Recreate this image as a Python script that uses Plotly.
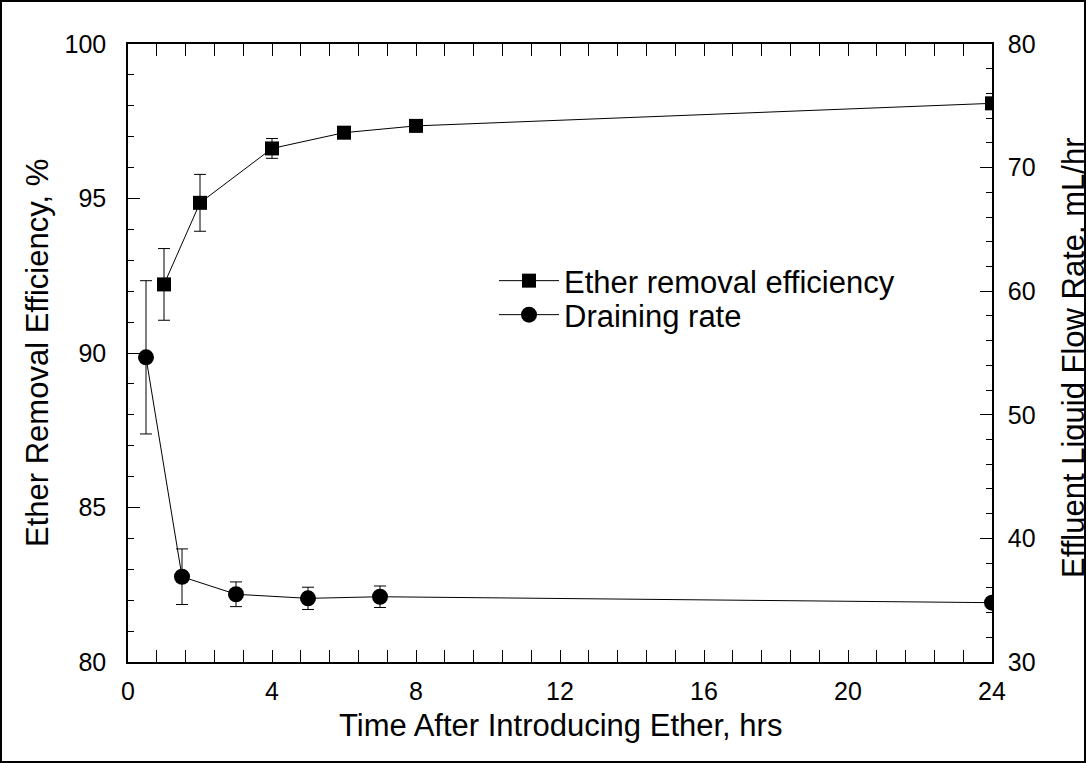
import plotly.graph_objects as go

# Data
eff_time = [1, 2, 4, 6, 8, 24]
eff_val = [92.22, 94.86, 96.62, 97.13, 97.35, 98.08]
eff_err = [1.16, 0.92, 0.32, 0.10, 0.15, 0.05]

drain_time = [0.5, 1.5, 3, 5, 7, 24]
drain_val = [54.65, 36.9, 35.48, 35.15, 35.28, 34.8]
drain_err = [6.2, 2.25, 1.0, 0.9, 0.87, 0.2]

x_ticks = [0, 4, 8, 12, 16, 20, 24]
y1_ticks = [80, 85, 90, 95, 100]
y2_ticks = [30, 40, 50, 60, 70, 80]

FONT = "Liberation Sans, Arial, sans-serif"
TFS = 25     # tick labels
LFS = 31     # titles / legend

fig = go.Figure()
fig.add_trace(go.Scatter(
    x=eff_time, y=eff_val, name="Ether removal efficiency",
    mode="lines+markers",
    line=dict(color="black", width=1),
    marker=dict(symbol="square", size=14, color="black"),
    error_y=dict(type="data", array=eff_err, visible=True, color="black", thickness=1, width=6),
    yaxis="y", legend="legend",
))
fig.add_trace(go.Scatter(
    x=drain_time, y=drain_val, name="Draining rate",
    mode="lines+markers",
    line=dict(color="black", width=1),
    marker=dict(symbol="circle", size=16, color="black"),
    error_y=dict(type="data", array=drain_err, visible=True, color="black", thickness=1, width=6),
    yaxis="y2", legend="legend2",
))

L, R, T, B = 128, 94, 44, 101
W, H = 1086, 763
pw, ph = W - L - R, H - T - B


def py(pix):
    return (H - B - pix) / ph


def px(pix):
    return (pix - L) / pw


leg_common = dict(xanchor="left", yanchor="middle", bgcolor="rgba(0,0,0,0)",
                  font=dict(size=LFS), itemwidth=60)

fig.update_layout(
    width=W, height=H,
    margin=dict(l=L, r=R, t=T, b=B),
    paper_bgcolor="white", plot_bgcolor="white",
    font=dict(family=FONT, size=TFS, color="black"),
    showlegend=True,
    legend=dict(x=px(494), y=py(281), **leg_common),
    legend2=dict(x=px(494), y=py(315), **leg_common),
    xaxis=dict(range=[0, 24], tickvals=x_ticks, ticks="inside", ticklen=12, tickwidth=1,
               tickcolor="black", showline=True, linecolor="black", linewidth=1.5,
               mirror="allticks", showgrid=False, zeroline=False, ticklabelstandoff=6,
               minor=dict(dtick=0.8, tick0=0, ticks="inside", ticklen=6, tickcolor="black", showgrid=False),
               tickfont=dict(size=TFS)),
    yaxis=dict(range=[80, 100], tickvals=y1_ticks, ticks="inside", ticklen=12, tickwidth=1,
               tickcolor="black", showline=True, linecolor="black", linewidth=1.5,
               showgrid=False, zeroline=False, ticklabelstandoff=15,
               minor=dict(dtick=1, tick0=80, ticks="inside", ticklen=6, tickcolor="black", showgrid=False),
               tickfont=dict(size=TFS)),
    yaxis2=dict(range=[30, 80], tickvals=y2_ticks, ticks="inside", ticklen=12, tickwidth=1,
                tickcolor="black", showline=True, linecolor="black", linewidth=1.5,
                overlaying="y", side="right", showgrid=False, zeroline=False, ticklabelstandoff=9,
                minor=dict(dtick=2, tick0=30, ticks="inside", ticklen=6, tickcolor="black", showgrid=False),
                tickfont=dict(size=TFS)),
    annotations=[
        dict(text="Time After Introducing Ether, hrs", xref="paper", yref="paper",
             x=px(560), y=py(725), xanchor="center", yanchor="middle",
             showarrow=False, font=dict(size=LFS)),
        dict(text="Ether Removal Efficiency, %", xref="paper", yref="paper",
             x=px(37), y=0.5, xanchor="center", yanchor="middle", textangle=-90,
             showarrow=False, font=dict(size=LFS)),
        dict(text="Effluent Liquid Flow Rate, mL/hr", xref="paper", yref="paper",
             x=px(1073), y=py(358), xanchor="center", yanchor="middle", textangle=-90,
             showarrow=False, font=dict(size=LFS)),
    ],
    shapes=[
        dict(type="rect", xref="paper", yref="paper",
             x0=px(1), x1=px(W - 1), y0=py(H - 1), y1=py(1),
             line=dict(color="black", width=2), fillcolor="rgba(0,0,0,0)", layer="below"),
    ],
)

fig.write_html("out.html")
